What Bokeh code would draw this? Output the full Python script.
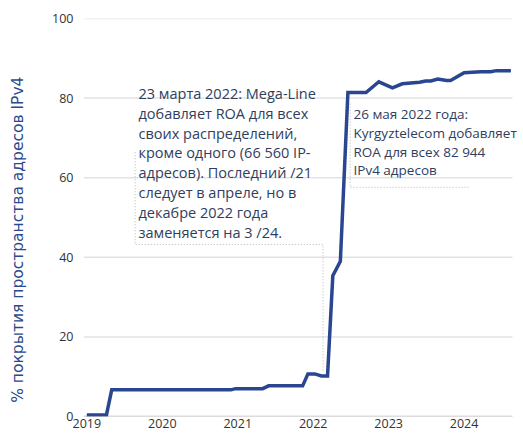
from bokeh.plotting import figure
from bokeh.models import FixedTicker, Range1d
from bokeh.core.properties import value
from bokeh.embed import file_html
from bokeh.resources import INLINE

# Data (fractional years, % coverage)
years = [2019.0, 2019.26, 2019.33, 2020.91, 2020.97, 2021.33, 2021.41, 2021.86,
         2021.93, 2022.02, 2022.11, 2022.19, 2022.26, 2022.36, 2022.46, 2022.70,
         2022.87, 2023.05, 2023.18, 2023.41, 2023.49, 2023.56, 2023.65, 2023.77,
         2023.82, 2024.00, 2024.22, 2024.35, 2024.43, 2024.62]
coverage = [0.4, 0.4, 6.7, 6.7, 7.0, 7.0, 7.7, 7.7,
            10.7, 10.7, 10.2, 10.2, 35.4, 39.0, 81.4, 81.4,
            84.1, 82.6, 83.6, 84.0, 84.3, 84.3, 84.8, 84.4,
            84.4, 86.4, 86.6, 86.6, 86.9, 86.9]
x_ticks = [2019, 2020, 2021, 2022, 2023, 2024]
y_ticks = [0, 20, 40, 60, 80, 100]

y_title = "% покрытия пространства адресов IPv4"
note1 = ("23 марта 2022: Mega-Line\nдобавляет ROA для всех\nсвоих распределений,\n"
         "кроме одного (66 560 IP-\nадресов). Последний /21\nследует в апреле, но в\n"
         "декабре 2022 года\nзаменяется на 3 /24.")
note2 = "26 мая 2022 года:\nKyrgyztelecom добавляет\nROA для всех 82 944\nIPv4 адресов"

FONT = "Open Sans"
TEXT_COLOR = "#2f3e5e"
LINE_COLOR = "#2a4690"
TICK_COLOR = "#333333"

# visible plot area ends at X_END; the frame runs a little further so the
# right-hand note can overhang the gridlines as in the original
X_START, X_END, X_FRAME_END = 2018.956, 2024.641, 2024.787

p = figure(width=523, height=434, output_backend="svg", toolbar_location=None,
           x_range=Range1d(X_START, X_FRAME_END), y_range=Range1d(0, 100),
           min_border_left=83, min_border_right=0, min_border_top=18, min_border_bottom=18)
p.outline_line_color = None
p.background_fill_color = "white"

# axes
p.xaxis.ticker = FixedTicker(ticks=x_ticks)
p.yaxis.ticker = FixedTicker(ticks=y_ticks)
for ax in (p.xaxis, p.yaxis):
    ax.major_tick_line_color = None
    ax.minor_tick_line_color = None
    ax.major_tick_out = 0
    ax.major_tick_in = 0
    ax.major_label_text_font = FONT
    ax.major_label_text_font_size = "12.5px"
    ax.major_label_text_color = TICK_COLOR
    ax.axis_line_color = None
p.xaxis.major_label_standoff = 2
p.yaxis.major_label_standoff = 10
p.yaxis.axis_label = y_title + "\u00a0" * 9
p.yaxis.axis_label_text_font = "DejaVu Sans"
p.yaxis.axis_label_text_font_size = "15.5px"
p.yaxis.axis_label_text_font_style = "normal"
p.yaxis.axis_label_text_color = "#2b4a8b"
p.yaxis.axis_label_standoff = 22

p.xgrid.grid_line_color = None
p.ygrid.grid_line_color = None

# horizontal gridlines and baseline, stopping at X_END
n = len(y_ticks)
p.segment(x0=[X_START] * n, x1=[X_END] * n, y0=y_ticks, y1=y_ticks,
          line_color="#e3e3e3", line_width=1.5)
p.segment(x0=[X_START], x1=[X_END], y0=[0], y1=[0], line_color="#c8c8c8", line_width=1.5)

# annotation connector lines (dotted)
dot = dict(line_color="#b5b5b5", line_width=1, line_dash="1 2")
p.line([2019.64, 2019.64, 2022.13, 2022.13], [66.4, 43.2, 43.2, 11.6], **dot)
p.line([2022.49, 2022.49, 2024.07], [78.6, 57.6, 57.6], **dot)

# main line
p.line(years, coverage, line_color=LINE_COLOR, line_width=3.5, line_join="miter")

# annotation texts
p.text(x=[2019.685], y=[63.7], text=[note1], text_font=value(FONT),
       text_font_size="14.5px", text_color=TEXT_COLOR, text_baseline="middle",
       text_align="left", text_line_height=1.05)
p.text(x=[2022.534], y=[68.9], text=[note2], text_font=value(FONT),
       text_font_size="13.5px", text_color=TEXT_COLOR, text_baseline="middle",
       text_align="left", text_line_height=1.03)

open("out.html", "w").write(file_html(p, INLINE))
